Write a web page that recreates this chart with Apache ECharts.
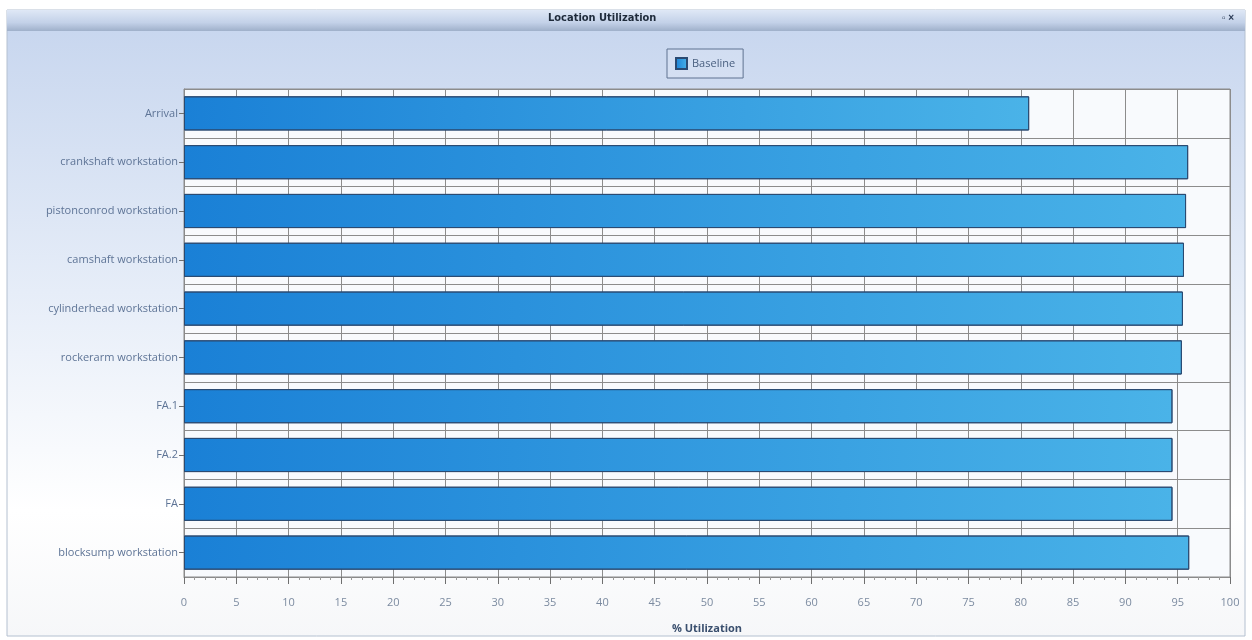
<!DOCTYPE html>
<html lang="en">
<head>
    <meta charset="UTF-8">
    <title>Location Utilization</title>
    <script src="https://cdn.jsdelivr.net/npm/echarts@6/dist/echarts.min.js"></script>
    <style>
        html, body { margin: 0; padding: 0; background: #fff; }
    </style>
</head>
<body>
    <div id="chart" style="width: 1252px; height: 640px;"></div>
    <script>
        const categories = ['Arrival', 'crankshaft workstation', 'pistonconrod workstation', 'camshaft workstation',
            'cylinderhead workstation', 'rockerarm workstation', 'FA.1', 'FA.2', 'FA', 'blocksump workstation'];
        const baseline = [80.8, 96.0, 95.8, 95.6, 95.5, 95.4, 94.5, 94.5, 94.5, 96.1];
        const xTicks = [0, 100, 5]; // min, max, step

        const chart = echarts.init(document.getElementById('chart'));
        const option = {
            backgroundColor: '#fff',
            graphic: [
                { // panel
                    type: 'rect', z: -10, silent: true,
                    shape: { x: 7, y: 10, width: 1238, height: 626 },
                    style: {
                        fill: new echarts.graphic.LinearGradient(0, 0, 0, 1, [
                            { offset: 0, color: '#c6d5ee' },
                            { offset: 0.45, color: '#e6edf8' },
                            { offset: 0.8, color: '#ffffff' },
                            { offset: 1, color: '#f6f7f9' }
                        ]),
                        stroke: '#b4c0d0', lineWidth: 1
                    }
                },
                { // title bar
                    type: 'rect', z: -9, silent: true,
                    shape: { x: 7, y: 10, width: 1238, height: 21 },
                    style: {
                        fill: new echarts.graphic.LinearGradient(0, 0, 0, 1, [
                            { offset: 0, color: '#dfe8f6' },
                            { offset: 0.6, color: '#c3d1e8' },
                            { offset: 1, color: '#9fb0ca' }
                        ])
                    }
                },
                {
                    type: 'text', left: 548, top: 13, silent: true,
                    style: { text: 'Location Utilization', fill: '#1e2a3a', font: 'bold 11px "DejaVu Sans Condensed", sans-serif' }
                },
                {
                    type: 'text', left: 1222, top: 13, silent: true,
                    style: { text: '▫ ×', fill: '#2a3a55', font: 'bold 10px sans-serif' }
                }
            ],
            legend: {
                data: ['Baseline'],
                top: 49,
                left: 667,
                itemWidth: 11,
                itemHeight: 11,
                icon: 'rect',
                borderColor: '#5f7391',
                borderWidth: 1,
                padding: [8, 8, 8, 8],
                backgroundColor: 'rgba(255,255,255,0.15)',
                textStyle: { color: '#4a6080', fontSize: 11, fontFamily: 'Open Sans' }
            },
            grid: {
                left: 184,
                right: 22,
                top: 89,
                bottom: 63,
                show: true,
                backgroundColor: '#f8fafd',
                borderColor: '#8c8c8c',
                borderWidth: 1
            },
            xAxis: {
                type: 'value',
                min: xTicks[0],
                max: xTicks[1],
                interval: xTicks[2],
                name: '% Utilization',
                nameLocation: 'middle',
                nameGap: 46,
                nameTextStyle: { color: '#3a4f6e', fontWeight: 'bold', fontSize: 11, fontFamily: 'Open Sans' },
                axisLine: { show: true, lineStyle: { color: '#8a8a8a' } },
                axisTick: { show: true, length: 7, lineStyle: { color: '#6f6f6f' } },
                minorTick: { show: true, splitNumber: 5, length: 3, lineStyle: { color: '#9a9a9a' } },
                axisLabel: { color: '#7c8ba0', fontSize: 11, margin: 20, fontFamily: 'Open Sans' },
                splitLine: { show: true, lineStyle: { color: '#8c8c8c', width: 1 } }
            },
            yAxis: {
                type: 'category',
                data: categories,
                inverse: true,
                axisLine: { show: true, lineStyle: { color: '#8a8a8a' } },
                axisTick: { show: true, alignWithLabel: true, length: 5, lineStyle: { color: '#6f6f6f' } },
                axisLabel: { color: '#5e7496', fontSize: 11, margin: 6, fontFamily: 'Open Sans' },
                splitLine: { show: true, lineStyle: { color: '#8c8c8c', width: 1 } }
            },
            series: [
                {
                    name: 'Baseline',
                    type: 'bar',
                    data: baseline,
                    barWidth: '70%',
                    itemStyle: {
                        color: new echarts.graphic.LinearGradient(0, 0, 1, 0, [
                            { offset: 0, color: '#1a80d6' },
                            { offset: 1, color: '#4ab3e8' }
                        ]),
                        borderColor: '#2a4a72',
                        borderWidth: 1
                    }
                }
            ]
        };
        chart.setOption(option);
    </script>
</body>
</html>
